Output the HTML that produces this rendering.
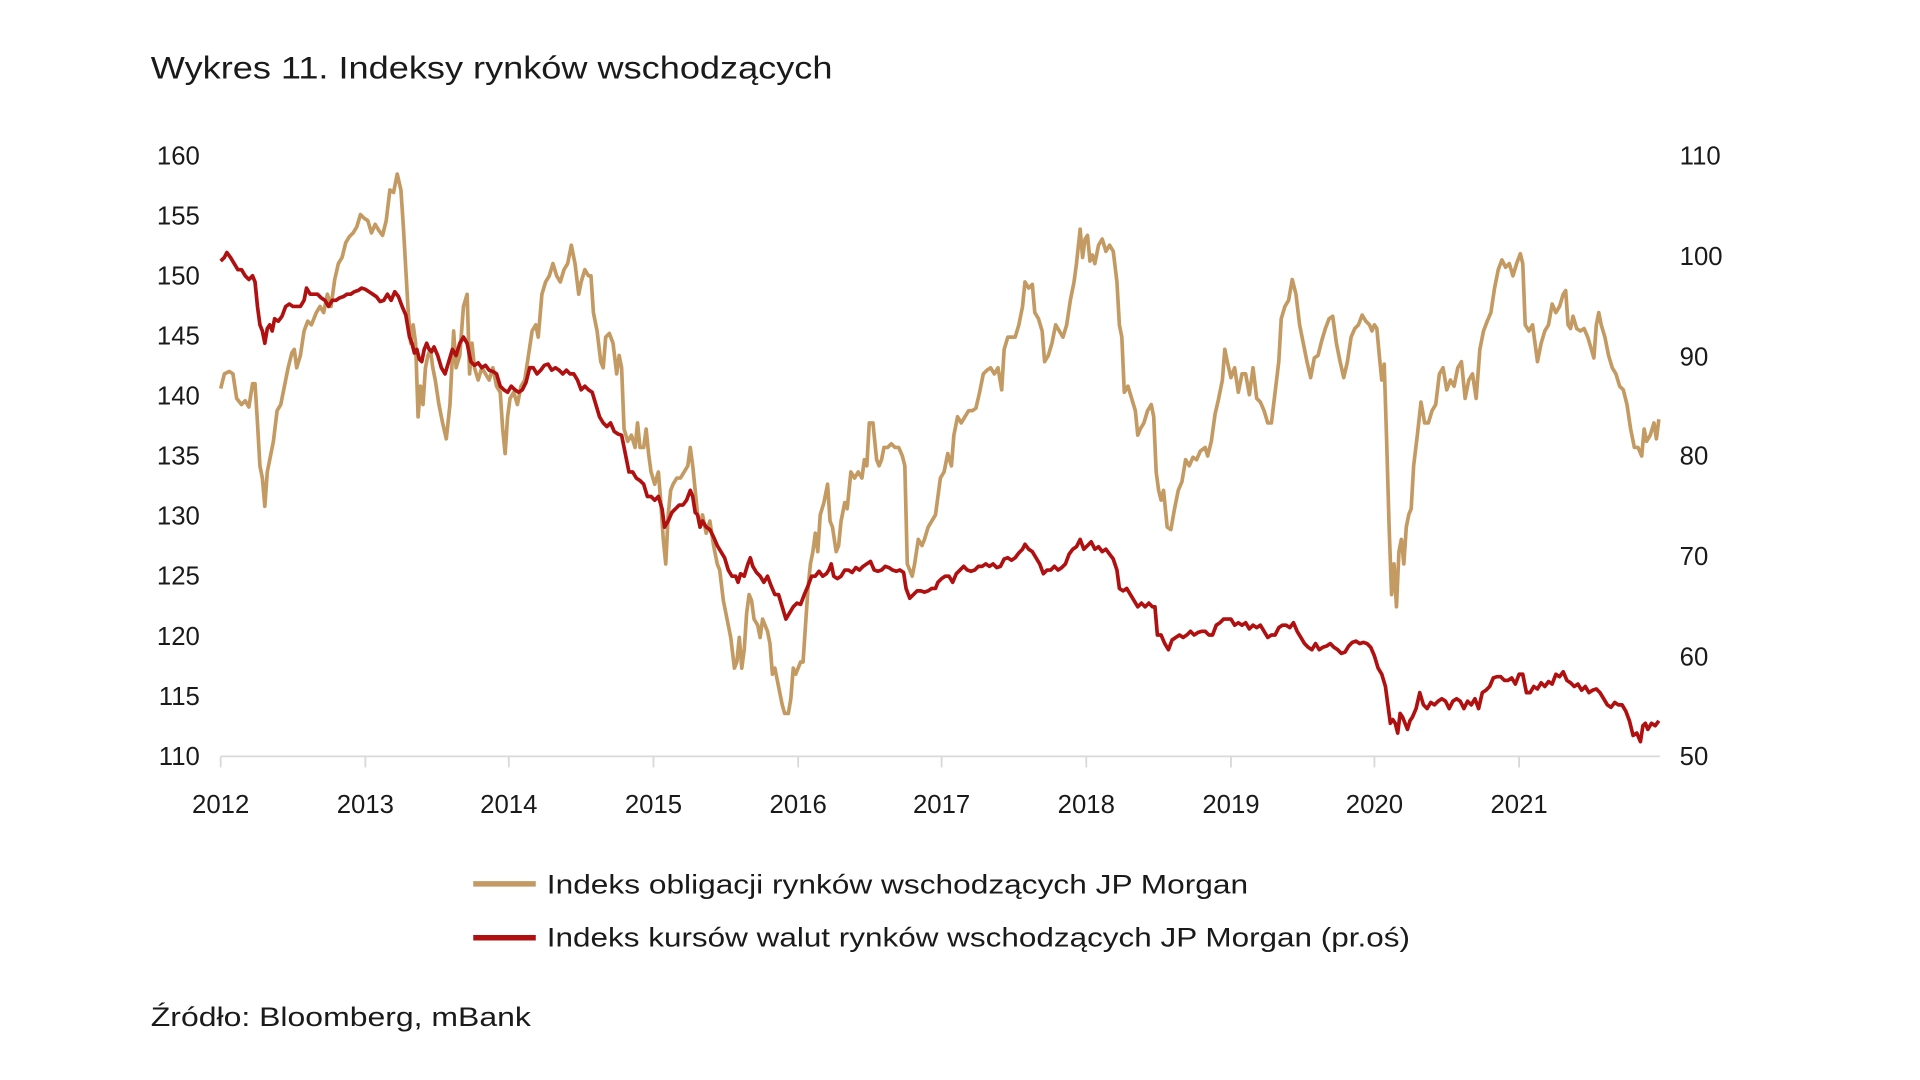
<!DOCTYPE html>
<html><head><meta charset="utf-8"><style>
html,body{margin:0;padding:0;background:#fff;width:1920px;height:1080px;overflow:hidden}
svg{display:block}
text{font-family:"Liberation Sans",sans-serif;fill:#1a1a1a}
</style></head><body>
<svg width="1920" height="1080" viewBox="0 0 1566 881" preserveAspectRatio="none">
<text x="123" y="64" font-size="26" textLength="556" lengthAdjust="spacingAndGlyphs">Wykres 11. Indeksy rynków wschodzących</text>
<g font-size="21" text-anchor="end">
<text x="163" y="134">160</text><text x="163" y="183">155</text><text x="163" y="232">150</text><text x="163" y="281">145</text><text x="163" y="330">140</text><text x="163" y="379">135</text><text x="163" y="428">130</text><text x="163" y="477">125</text><text x="163" y="526">120</text><text x="163" y="575">115</text><text x="163" y="624">110</text>
</g>
<g font-size="21">
<text x="1370" y="134">110</text><text x="1370" y="216">100</text><text x="1370" y="298">90</text><text x="1370" y="379">80</text><text x="1370" y="461">70</text><text x="1370" y="543">60</text><text x="1370" y="624">50</text>
</g>
<line x1="180" y1="617" x2="1354" y2="617" stroke="#d9d9d9" stroke-width="1.5"/>
<g stroke="#d9d9d9" stroke-width="1.5">
<line x1="180" y1="617" x2="180" y2="626"/><line x1="298" y1="617" x2="298" y2="626"/><line x1="415" y1="617" x2="415" y2="626"/><line x1="533" y1="617" x2="533" y2="626"/><line x1="651" y1="617" x2="651" y2="626"/><line x1="768" y1="617" x2="768" y2="626"/><line x1="886" y1="617" x2="886" y2="626"/><line x1="1004" y1="617" x2="1004" y2="626"/><line x1="1121" y1="617" x2="1121" y2="626"/><line x1="1239" y1="617" x2="1239" y2="626"/>
</g>
<g font-size="21" text-anchor="middle">
<text x="180" y="663">2012</text><text x="298" y="663">2013</text><text x="415" y="663">2014</text><text x="533" y="663">2015</text><text x="651" y="663">2016</text><text x="768" y="663">2017</text><text x="886" y="663">2018</text><text x="1004" y="663">2019</text><text x="1121" y="663">2020</text><text x="1239" y="663">2021</text>
</g>
<polyline fill="none" stroke="#c49a63" stroke-width="3" stroke-linejoin="round" points="180,317 183,305 187,303 190,305 193,325 197,330 200,327 203,332 206,313 208,313 210,345 212,380 214,390 216,413 218,385 221,370 223,360 226,335 229,330 232,315 235,300 238,288 240,285 242,300 245,290 248,270 251,262 254,265 258,255 261,250 264,255 267,240 270,250 273,228 276,215 279,210 282,198 285,193 288,190 291,185 294,175 297,178 300,180 303,190 306,183 309,188 312,192 315,180 318,155 321,157 324,142 327,155 329,185 331,220 333,255 335,280 337,265 339,280 341,340 343,315 345,330 347,300 349,290 351,285 353,300 355,310 358,330 361,345 364,358 367,330 370,270 372,300 375,290 378,250 381,240 383,305 385,280 387,300 390,310 393,300 396,305 399,310 402,300 405,315 408,320 410,350 412,370 414,340 416,325 419,320 422,330 425,315 428,310 431,290 434,270 437,265 439,275 442,240 445,230 448,225 451,215 454,225 457,230 460,220 463,215 466,200 469,215 472,240 474,230 477,220 480,225 482,225 484,255 487,270 490,295 492,300 494,275 497,272 500,280 503,305 505,290 507,300 509,350 512,360 515,355 518,365 520,345 522,365 525,365 527,350 529,370 531,385 534,395 537,385 539,410 541,440 543,460 545,420 547,400 549,395 552,390 555,390 558,385 561,380 563,365 565,380 567,400 569,420 571,430 573,420 576,435 579,425 582,445 585,460 587,465 590,490 593,505 596,520 599,545 601,540 603,520 605,545 607,530 609,500 611,485 613,490 615,505 618,510 620,520 622,505 624,510 626,515 628,525 630,550 632,545 634,555 636,565 638,575 640,582 643,582 645,570 647,545 649,550 651,545 653,540 655,540 657,510 659,480 661,460 663,450 665,435 667,450 669,420 672,410 675,395 677,425 679,430 682,450 684,445 686,425 689,410 691,415 694,385 697,390 700,385 703,390 705,375 707,380 709,345 712,345 715,375 717,380 719,375 721,365 724,365 727,362 730,365 733,365 736,372 738,380 740,460 742,465 744,470 746,460 749,440 752,445 754,440 757,430 760,425 763,420 765,405 767,390 770,385 773,370 776,380 778,355 781,340 784,345 787,340 790,335 793,335 796,333 799,320 802,305 805,302 808,300 811,305 814,300 817,318 819,285 822,275 825,275 828,275 831,265 834,250 836,230 839,235 842,232 844,255 847,260 850,270 852,295 855,290 858,280 861,265 864,270 867,275 870,265 873,245 876,230 878,215 881,187 883,210 885,195 887,192 889,213 891,208 893,215 896,200 899,195 902,205 905,200 908,205 911,230 913,265 915,275 917,320 920,315 923,325 926,335 928,355 930,350 933,345 936,335 939,330 941,340 943,385 945,400 947,408 949,400 952,430 955,432 958,415 961,400 964,393 967,375 970,380 973,373 976,375 979,368 983,365 985,372 988,360 991,338 994,325 997,310 999,285 1001,295 1004,308 1007,300 1010,320 1013,305 1016,305 1019,322 1022,300 1025,325 1028,328 1031,335 1034,345 1037,345 1040,320 1043,295 1045,260 1048,250 1051,245 1054,228 1057,240 1060,265 1063,280 1066,295 1069,308 1072,292 1075,290 1078,278 1081,268 1084,260 1087,258 1090,280 1093,295 1096,308 1099,295 1102,275 1105,268 1108,265 1111,257 1114,262 1117,265 1119,270 1121,265 1123,268 1125,290 1127,310 1129,297 1131,360 1133,430 1135,485 1137,460 1139,495 1141,450 1143,440 1145,460 1147,430 1149,420 1151,415 1153,380 1156,355 1159,328 1162,345 1165,345 1168,335 1171,330 1174,305 1177,300 1180,318 1183,310 1186,315 1189,300 1192,295 1195,325 1198,310 1201,305 1204,325 1207,285 1210,270 1213,262 1216,255 1219,235 1222,220 1225,212 1228,218 1231,215 1234,225 1237,215 1240,207 1242,215 1244,265 1247,270 1250,265 1252,280 1254,295 1257,280 1260,270 1263,265 1266,248 1269,255 1272,250 1275,240 1277,237 1279,265 1281,268 1283,258 1286,268 1289,270 1292,268 1295,275 1298,285 1300,292 1302,265 1304,255 1306,265 1309,275 1312,290 1315,300 1318,305 1321,315 1324,318 1327,330 1330,350 1333,365 1336,365 1339,372 1341,350 1343,360 1346,355 1349,345 1351,358 1353,342"/>
<polyline fill="none" stroke="#b01010" stroke-width="3" stroke-linejoin="round" points="180,213 183,210 185,206 188,210 191,215 194,220 197,220 200,225 203,228 206,225 208,230 210,250 212,265 214,270 216,280 218,268 220,265 222,270 224,260 227,262 230,258 233,250 236,248 239,250 242,250 245,250 248,245 250,235 253,240 256,240 259,240 262,243 265,245 268,250 271,245 274,245 277,243 280,242 283,240 286,240 289,238 292,237 295,235 298,236 301,238 304,240 307,242 310,246 313,245 316,240 319,245 322,238 325,242 328,250 331,257 334,275 336,280 338,288 340,285 342,293 344,295 346,285 348,280 350,285 352,287 354,283 357,290 360,300 363,305 366,295 369,285 372,290 375,280 378,275 381,280 384,295 387,298 390,296 393,300 396,298 399,302 402,303 405,305 408,315 411,318 414,320 417,315 420,318 423,320 426,318 429,312 432,300 435,300 438,305 441,302 444,298 447,297 450,302 453,300 456,302 459,305 462,302 465,305 468,305 471,310 474,318 477,315 480,318 483,320 486,330 489,340 492,345 495,348 498,345 501,352 504,354 507,355 510,370 513,385 516,385 519,390 522,392 525,395 528,405 531,405 534,408 537,405 540,415 542,430 545,425 548,418 551,415 554,412 557,412 560,408 563,400 565,405 567,418 569,420 571,430 573,425 576,430 579,432 582,438 585,445 588,450 591,455 594,465 597,470 600,470 602,475 604,468 607,470 610,460 612,455 614,462 617,467 620,470 623,475 626,470 629,478 632,485 635,485 638,495 641,505 644,500 647,495 650,492 653,493 656,485 659,478 662,470 665,470 668,466 671,470 674,468 676,465 678,460 680,470 683,472 686,470 689,465 692,465 695,467 698,463 701,465 704,462 707,460 710,458 713,465 716,466 719,465 722,462 725,463 728,465 731,466 734,465 737,467 739,480 742,488 745,485 748,482 751,482 754,483 757,482 760,480 763,480 765,475 768,472 771,470 774,470 777,475 780,468 783,465 786,462 789,465 792,466 795,465 798,462 801,462 804,460 807,462 810,460 813,463 816,462 819,456 822,455 825,457 828,455 831,451 834,448 836,444 839,448 842,450 845,455 848,460 851,468 854,465 857,465 860,462 863,465 866,463 869,460 872,452 875,448 878,446 881,440 884,448 887,445 890,442 893,448 896,446 899,450 902,448 905,452 908,456 911,465 913,480 916,482 919,480 922,485 925,490 928,495 931,492 934,495 937,492 940,495 942,495 944,518 947,518 950,525 953,530 956,522 959,520 962,518 965,520 968,518 971,515 974,518 977,516 980,515 983,515 986,518 989,518 992,510 995,508 998,505 1001,505 1004,505 1007,510 1010,508 1013,510 1016,508 1019,513 1022,510 1025,512 1028,510 1031,515 1034,520 1037,518 1040,518 1043,512 1046,510 1049,510 1052,512 1055,508 1058,515 1061,520 1064,525 1067,528 1070,530 1073,525 1076,530 1079,528 1082,527 1085,525 1088,528 1091,530 1094,533 1097,532 1100,527 1103,524 1106,523 1109,525 1112,524 1115,525 1118,528 1121,535 1124,545 1127,550 1130,560 1132,575 1134,590 1136,587 1138,590 1140,598 1142,582 1144,585 1146,590 1148,595 1150,588 1152,585 1155,578 1158,565 1161,575 1164,578 1167,573 1170,575 1173,572 1176,570 1179,572 1182,578 1185,572 1188,570 1191,572 1194,578 1197,572 1200,575 1203,570 1206,578 1209,565 1212,563 1215,560 1218,553 1221,552 1224,552 1227,555 1230,555 1233,553 1236,558 1239,550 1242,550 1245,565 1248,565 1251,560 1254,562 1257,557 1260,560 1263,556 1266,558 1269,550 1272,552 1275,548 1278,555 1281,557 1284,560 1287,558 1290,563 1293,560 1296,565 1299,563 1302,562 1305,565 1308,570 1311,575 1314,577 1317,573 1320,575 1323,575 1326,580 1329,588 1332,600 1335,598 1338,605 1340,592 1342,590 1344,595 1347,590 1350,592 1353,588"/>
<line x1="386" y1="721" x2="437" y2="721" stroke="#c49a63" stroke-width="4.5"/>
<line x1="386" y1="765" x2="437" y2="765" stroke="#b01010" stroke-width="4.5"/>
<text x="446" y="729" font-size="22" textLength="572" lengthAdjust="spacingAndGlyphs">Indeks obligacji rynków wschodzących JP Morgan</text>
<text x="446" y="772" font-size="22" textLength="704" lengthAdjust="spacingAndGlyphs">Indeks kursów walut rynków wschodzących JP Morgan (pr.oś)</text>
<text x="123" y="837" font-size="22" textLength="310" lengthAdjust="spacingAndGlyphs">Źródło: Bloomberg, mBank</text>
</svg>
</body></html>
